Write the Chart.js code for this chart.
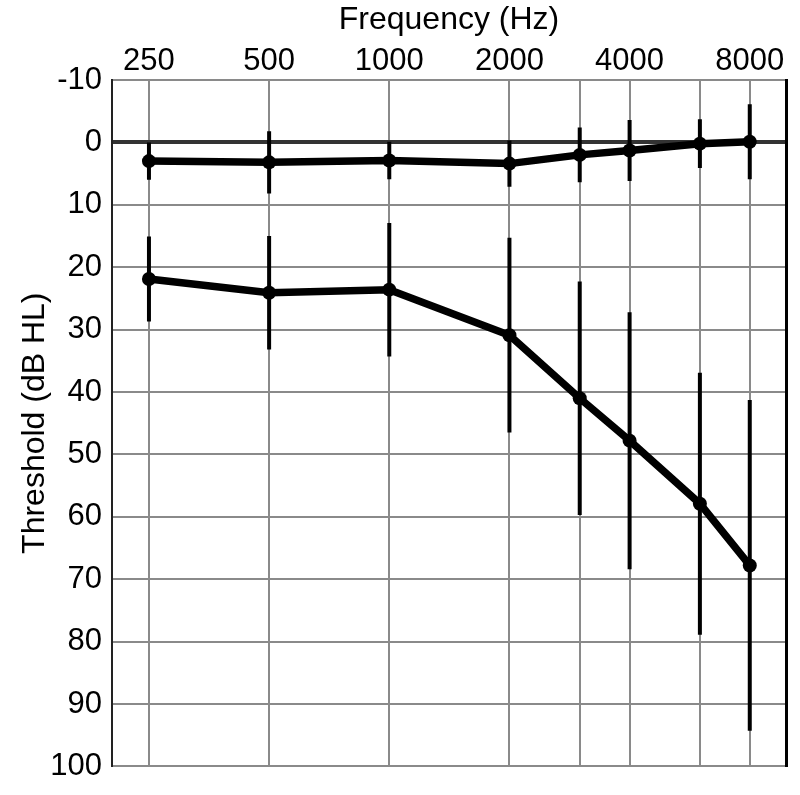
<!DOCTYPE html>
<html>
<head>
<meta charset="utf-8">
<script src="https://cdn.jsdelivr.net/npm/chart.js@4/dist/chart.umd.min.js"></script>
<style>
  html, body { margin: 0; padding: 0; background: #ffffff; }
  #wrap { width: 800px; height: 795px; position: relative; }
</style>
</head>
<body>
<div id="wrap"><canvas id="c" width="800" height="795"></canvas></div>
<script>
// ---- data ----
const frequencies = [250, 500, 1000, 2000, 3000, 4000, 6000, 8000];
const normalMean  = [3.0, 3.2, 2.9, 3.4, 2.0, 1.3, 0.2, -0.1];
const normalSD    = [3.0, 5.0, 3.0, 3.7, 4.4, 4.9, 3.9, 6.0];
const lossMean    = [21.9, 24.1, 23.6, 30.9, 41.0, 47.8, 57.9, 67.8];
const lossSD      = [6.8, 9.1, 10.7, 15.6, 18.7, 20.6, 21.0, 26.5];
const xTickValues = [250, 500, 1000, 2000, 3000, 4000, 6000, 8000];
const xTickLabels = ['250', '500', '1000', '2000', '', '4000', '', '8000'];
const yTickValues = [-10, 0, 10, 20, 30, 40, 50, 60, 70, 80, 90, 100];

function linePoints(mean) {
  return frequencies.map((f, i) => ({ x: f, y: mean[i] }));
}
function errorPoints(mean, sd) {
  const pts = [];
  frequencies.forEach((f, i) => {
    pts.push({ x: f, y: mean[i] - sd[i] });
    pts.push({ x: f, y: mean[i] + sd[i] });
    pts.push({ x: f, y: null });
  });
  return pts;
}

const FONT = '"Liberation Sans", Arial, Helvetica, sans-serif';

new Chart(document.getElementById('c'), {
  type: 'line',
  data: {
    datasets: [
      {
        label: 'normal SD',
        data: errorPoints(normalMean, normalSD),
        borderColor: '#000', borderWidth: 4, pointRadius: 0,
        spanGaps: false, borderCapStyle: 'butt'
      },
      {
        label: 'loss SD',
        data: errorPoints(lossMean, lossSD),
        borderColor: '#000', borderWidth: 4, pointRadius: 0,
        spanGaps: false, borderCapStyle: 'butt'
      },
      {
        label: 'normal',
        data: linePoints(normalMean),
        borderColor: '#000', backgroundColor: '#000', borderWidth: 7.5,
        pointRadius: 7, pointBackgroundColor: '#000', pointBorderWidth: 0,
        tension: 0
      },
      {
        label: 'loss',
        data: linePoints(lossMean),
        borderColor: '#000', backgroundColor: '#000', borderWidth: 7.5,
        pointRadius: 7, pointBackgroundColor: '#000', pointBorderWidth: 0,
        tension: 0
      }
    ]
  },
  options: {
    responsive: false,
    animation: false,
    events: [],
    layout: { padding: { left: 0, right: 0, top: 0, bottom: 28 } },
    plugins: { legend: { display: false }, tooltip: { enabled: false } },
    scales: {
      x: {
        type: 'logarithmic',
        position: 'top',
        min: 202,
        max: 9860,
        afterBuildTicks: s => { s.ticks = xTickValues.map(v => ({ value: v })); },
        afterFit: s => { s.height = 80; },
        ticks: {
          autoSkip: false, maxRotation: 0, minRotation: 0, padding: 0,
          color: '#000',
          font: { family: FONT, size: 31 },
          callback: (v, i) => xTickLabels[i]
        },
        grid: { color: '#8a8a8a', lineWidth: 2, drawTicks: false },
        border: { display: true, color: '#8a8a8a', width: 2 },
        title: {
          display: true, text: 'Frequency (Hz)', color: '#000',
          font: { family: FONT, size: 32 }, padding: { top: 1, bottom: 0 }
        }
      },
      y: {
        type: 'linear',
        reverse: true,
        min: -10, max: 100,
        afterBuildTicks: s => { s.ticks = yTickValues.map(v => ({ value: v })); },
        afterFit: s => { s.width = 112; },
        ticks: {
          padding: 10, color: '#000',
          font: { family: FONT, size: 31 }
        },
        grid: {
          drawTicks: false,
          color: c => (c.tick && c.tick.value === 0) ? '#333' : '#8a8a8a',
          lineWidth: c => (c.tick && c.tick.value === 0) ? 4 : 2
        },
        border: { display: true, color: '#222', width: 2 },
        title: {
          display: true, text: 'Threshold (dB HL)', color: '#000',
          font: { family: FONT, size: 32 }, padding: { top: 16, bottom: 0 }
        }
      },
      y2: {
        type: 'linear',
        position: 'right',
        min: -10, max: 100,
        afterFit: s => { s.width = 14; },
        ticks: { display: false },
        grid: { display: false, drawTicks: false },
        border: { display: true, color: '#000', width: 3 }
      }
    }
  }
});
</script>
</body>
</html>
